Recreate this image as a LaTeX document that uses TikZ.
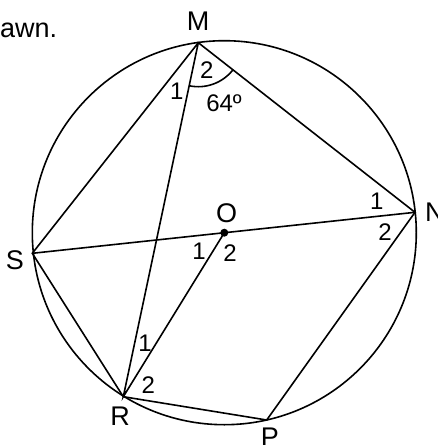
\documentclass[tikz,border=0pt]{standalone}
\usepackage{fontspec}
\setmainfont{Liberation Sans}
\usetikzlibrary{calc}
\begin{document}
\begin{tikzpicture}[x=1pt,y=-1pt,
  geo/.style={line width=1.6pt},
  vlab/.style={font=\fontsize{27}{29}\selectfont, inner sep=0pt},
  alab/.style={font=\fontsize{24}{26}\selectfont, inner sep=0pt}]
\useasboundingbox (0,0) rectangle (438,445);
\coordinate (O) at (224.3,232.7);
\coordinate (M) at (198.3,42.7);
\coordinate (N) at (415,212.3);
\coordinate (S) at (32.3,253.3);
\coordinate (R) at (123.3,396.7);
\coordinate (P) at (266.7,420);
\draw[geo] (O) circle (192pt);
\draw[geo] (M) -- (S) -- (R) -- (P) -- (N) -- (M) -- (R) -- (O);
\draw[geo] (S) -- (N);
\fill (O) circle (4pt);
% angle arc at M
\draw[geo] ($(M)!44pt!(R)$) arc[start angle={atan2(-354,-75)}, end angle={atan2(-169.6,216.7)}, radius=44pt];
% labels
\node[vlab, anchor=base west] (t) at (0,37.7) {awn.};
\node[vlab] (lM) at (198,21) {M};
\node[vlab] (lO) at (226.7,213.3) {O};
\node[vlab, anchor=west] (lN) at (425,212) {N};
\node[vlab] (lS) at (15,260) {S};
\node[vlab] (lR) at (120,416.7) {R};
\node[vlab] (lP) at (270,437) {P};
\node[alab] (m2) at (206.7,70) {2};
\node[alab] (m1) at (176.7,91.7) {1};
\node[alab] (m64) at (224,103.3) {64º};
\node[alab] (o1) at (199,251.7) {1};
\node[alab] (o2) at (230,253.3) {2};
\node[alab] (n1) at (376.7,201.7) {1};
\node[alab] (n2) at (385,231.7) {2};
\node[alab] (r1) at (145,343.3) {1};
\node[alab] (r2) at (148.3,385) {2};
\end{tikzpicture}
\end{document}
